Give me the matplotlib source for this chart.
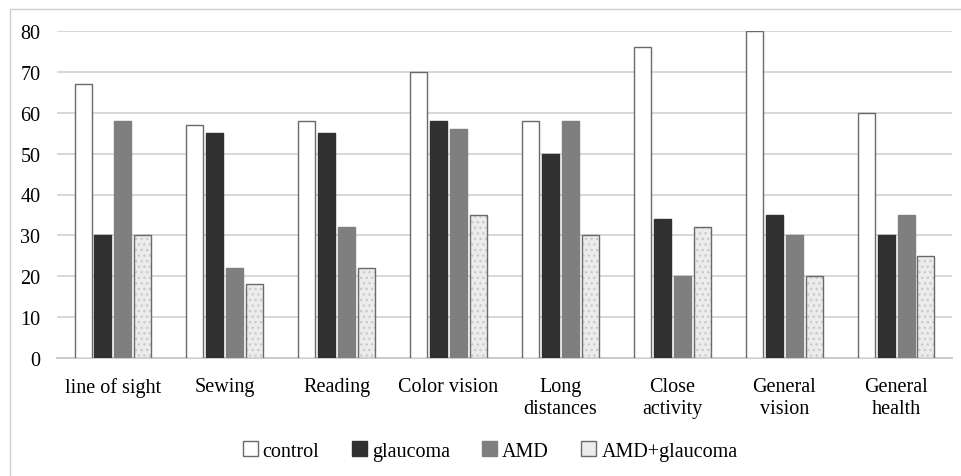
import matplotlib
matplotlib.use("Agg")
import matplotlib.pyplot as plt
import numpy as np
from matplotlib.lines import Line2D
from matplotlib.patches import Patch

plt.rcParams['font.family'] = ['Liberation Serif', 'DejaVu Serif']

categories = ["line of sight", "Sewing", "Reading", "Color vision",
              "Long\ndistances", "Close\nactivity", "General\nvision", "General\nhealth"]
control = [67, 57, 58, 70, 58, 76, 80, 60]
glaucoma = [30, 55, 55, 58, 50, 34, 35, 30]
amd = [58, 22, 32, 56, 58, 20, 30, 35]
amd_glaucoma = [30, 18, 22, 35, 30, 32, 20, 25]
yticks = [0, 10, 20, 30, 40, 50, 60, 70, 80]

W, H = 962, 477
fig = plt.figure(figsize=(W / 100, H / 100), dpi=100)
ax = fig.add_axes([57 / W, (H - 359) / H, (952 - 57) / W, (359 - 32) / H])

x = np.arange(len(categories))
step = 0.178
bw = 0.152
edge = '#6a6a6a'

ax.bar(x - 1.5 * step, control, bw, color='white', edgecolor=edge, linewidth=1, zorder=3)
ax.bar(x - 0.5 * step, glaucoma, bw, color='#303030', edgecolor='#303030', linewidth=1, zorder=3)
ax.bar(x + 0.5 * step, amd, bw, color='#7f7f7f', edgecolor='#7f7f7f', linewidth=1, zorder=3)
# speckled fill, then the outline on top
ax.bar(x + 1.5 * step, amd_glaucoma, bw, color='#ececec', edgecolor='#cacaca',
       hatch='...', linewidth=0, zorder=3)
ax.bar(x + 1.5 * step, amd_glaucoma, bw, fill=False, edgecolor=edge, linewidth=1, zorder=4)

ax.set_xlim(-0.5, len(categories) - 0.5)
ax.set_ylim(0, 80)
ax.set_yticks(yticks)
ax.set_xticks(x)
ax.set_xticklabels(categories, fontsize=14.5, linespacing=1.2)
ax.tick_params(axis='both', length=0, labelsize=14.5)
ax.tick_params(axis='y', pad=12)
ax.tick_params(axis='x', pad=14)
ax.yaxis.grid(True, color='#d4d4d4', linewidth=1.3, zorder=0)
for s in ['top', 'right', 'left']:
    ax.spines[s].set_visible(False)
ax.spines['bottom'].set_color('#c8c8c8')
ax.spines['bottom'].set_linewidth(1.3)

# chart area border (left and top edges visible)
fig.add_artist(Line2D([9.5 / W, 9.5 / W], [0, 1 - 10 / H], color='#d0d0d0', linewidth=1))
fig.add_artist(Line2D([9.5 / W, 1], [1 - 10 / H, 1 - 10 / H], color='#d0d0d0', linewidth=1))

handles = [
    Patch(facecolor='white', edgecolor=edge, linewidth=1),
    Patch(facecolor='#303030', edgecolor='#303030'),
    Patch(facecolor='#7f7f7f', edgecolor='#7f7f7f'),
    Patch(facecolor='#ececec', edgecolor=edge, linewidth=1),
]
fig.legend(handles, ["control", "glaucoma", "AMD", "AMD+glaucoma"], loc='center',
           bbox_to_anchor=(490 / W, 1 - 452 / H), ncol=4, frameon=False, fontsize=14.5,
           handlelength=0.75, handleheight=0.75, handletextpad=0.25, columnspacing=1.6)

fig.savefig("out.png", dpi=100)
